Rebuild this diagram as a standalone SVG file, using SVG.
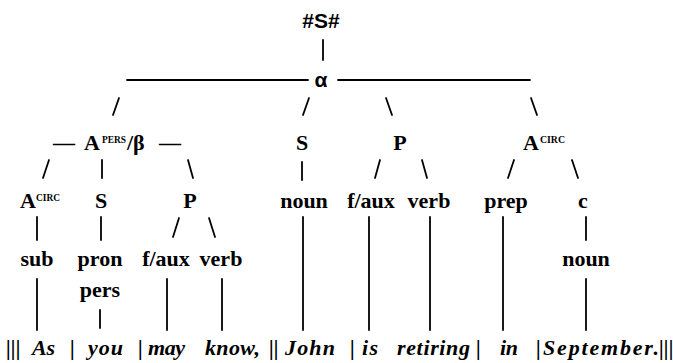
<svg xmlns="http://www.w3.org/2000/svg" width="673" height="363" viewBox="0 0 673 363">
<style>
.s{font-family:"Liberation Serif","DejaVu Serif","Noto Serif",serif;font-weight:bold;font-size:22px;fill:#000}
.sup{font-family:"Liberation Serif","DejaVu Serif",serif;font-weight:bold;font-size:10px;fill:#000}
.h{font-family:"Liberation Sans",Arial,sans-serif;font-weight:bold;font-size:21px;fill:#000}
.w{font-family:"Liberation Serif","DejaVu Serif",serif;font-weight:bold;font-style:italic;font-size:22px;fill:#000}
.c line{stroke:#000;stroke-width:1.8;stroke-linecap:round}
</style>
<rect width="673" height="363" fill="#fff"/>
<g class="c" id="connectors">
<line x1="323" y1="40" x2="323" y2="60"/>
<line x1="127" y1="80" x2="308" y2="80"/>
<line x1="338" y1="80" x2="530" y2="80"/>
<line x1="113" y1="115" x2="119" y2="98"/>
<line x1="303" y1="115" x2="309" y2="98"/>
<line x1="386" y1="98" x2="392" y2="115"/>
<line x1="531" y1="98" x2="537" y2="115"/>
<line x1="43" y1="178" x2="49" y2="160"/>
<line x1="102" y1="160" x2="102" y2="178"/>
<line x1="188" y1="160" x2="193" y2="178"/>
<line x1="302" y1="162" x2="302" y2="180"/>
<line x1="375" y1="178" x2="380" y2="160"/>
<line x1="422" y1="160" x2="427" y2="178"/>
<line x1="508" y1="178" x2="514" y2="160"/>
<line x1="572" y1="160" x2="578" y2="178"/>
<line x1="37" y1="217" x2="37" y2="240"/>
<line x1="101" y1="217" x2="101" y2="240"/>
<line x1="173" y1="237" x2="179" y2="218"/>
<line x1="209" y1="218" x2="215" y2="237"/>
<line x1="303" y1="217" x2="303" y2="330"/>
<line x1="369" y1="217" x2="369" y2="330"/>
<line x1="430" y1="217" x2="430" y2="330"/>
<line x1="503" y1="217" x2="503" y2="330"/>
<line x1="586" y1="217" x2="586" y2="240"/>
<line x1="37" y1="279" x2="37" y2="330"/>
<line x1="100" y1="310" x2="100" y2="328"/>
<line x1="167" y1="279" x2="167" y2="330"/>
<line x1="222" y1="279" x2="222" y2="330"/>
<line x1="586" y1="279" x2="586" y2="330"/>
</g>
<g id="root"><text class="h" x="321" y="28" text-anchor="middle">#S#</text></g>
<g id="alpha"><text class="h" x="321" y="87" text-anchor="middle">α</text></g>
<g id="apers"><text class="s" y="150"><tspan x="53">—</tspan><tspan x="84">A</tspan><tspan class="sup" x="102" y="143" textLength="24" lengthAdjust="spacingAndGlyphs">PERS</tspan><tspan x="127" y="150">/β</tspan><tspan x="159">—</tspan></text></g>
<g id="s1"><text class="s" x="302" y="150" text-anchor="middle">S</text></g>
<g id="p1"><text class="s" x="400" y="150" text-anchor="middle">P</text></g>
<g id="acirc1"><text class="s" y="150"><tspan x="523">A</tspan><tspan class="sup" x="540" y="143" textLength="25" lengthAdjust="spacingAndGlyphs">CIRC</tspan></text></g>
<g id="acirc2"><text class="s" y="208"><tspan x="20">A</tspan><tspan class="sup" x="36" y="201" textLength="24" lengthAdjust="spacingAndGlyphs">CIRC</tspan></text></g>
<g id="s2"><text class="s" x="101" y="208" text-anchor="middle">S</text></g>
<g id="p2"><text class="s" x="190" y="208" text-anchor="middle">P</text></g>
<g id="noun1"><text class="s" x="304" y="208" text-anchor="middle">noun</text></g>
<g id="faux1"><text class="s" x="371" y="208" text-anchor="middle">f/aux</text></g>
<g id="verb1"><text class="s" x="429" y="208" text-anchor="middle">verb</text></g>
<g id="prep"><text class="s" x="506" y="208" text-anchor="middle">prep</text></g>
<g id="c"><text class="s" x="583" y="208" text-anchor="middle">c</text></g>
<g id="sub"><text class="s" x="37" y="266" text-anchor="middle">sub</text></g>
<g id="pronpers"><text class="s" x="100" y="266" text-anchor="middle">pron</text><text class="s" x="100" y="297" text-anchor="middle">pers</text></g>
<g id="faux2"><text class="s" x="166" y="266" text-anchor="middle">f/aux</text></g>
<g id="verb2"><text class="s" x="221" y="266" text-anchor="middle">verb</text></g>
<g id="noun2"><text class="s" x="586" y="266" text-anchor="middle">noun</text></g>
<g id="sentence"><text class="w" y="355"><tspan x="6">|||</tspan><tspan x="32" textLength="23">As</tspan><tspan x="70">|</tspan><tspan x="88" textLength="35">you</tspan><tspan x="138">|</tspan><tspan x="148" textLength="37">may</tspan><tspan x="205" textLength="55">know,</tspan><tspan x="269">||</tspan><tspan x="285" textLength="50">John</tspan><tspan x="350">|</tspan><tspan x="362" textLength="16">is</tspan><tspan x="397" textLength="73">retiring</tspan><tspan x="476">|</tspan><tspan x="500" textLength="18">in</tspan><tspan x="536">|</tspan><tspan x="543" textLength="116">September.</tspan><tspan x="659">|||</tspan></text></g>
</svg>
